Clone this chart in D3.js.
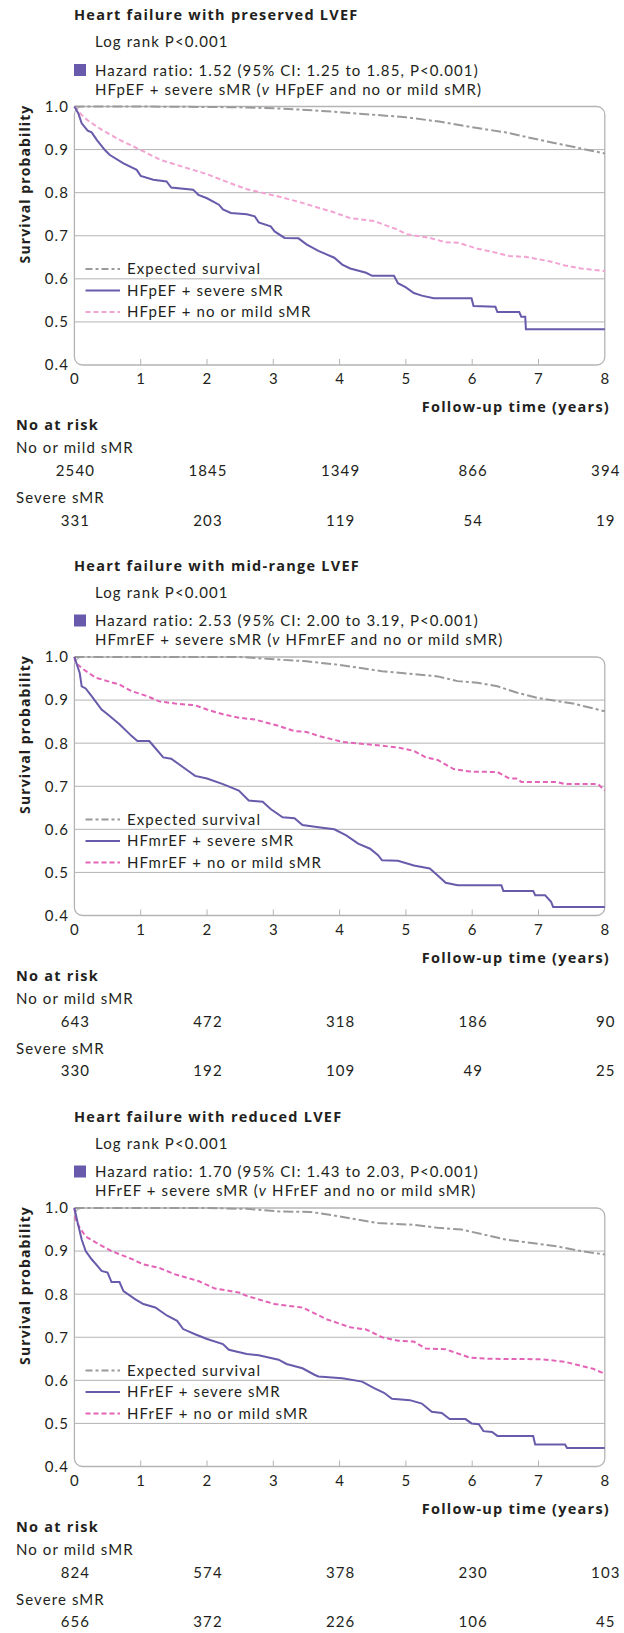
<!DOCTYPE html>
<html>
<head>
<meta charset="utf-8">
<script src="https://cdn.jsdelivr.net/npm/d3@7"></script>
<style>
  body { margin: 0; background: #fff; }
  svg text { font-family: Lato, "Noto Sans", sans-serif; fill: #231f20; letter-spacing: 1.1px; }
  svg text.bold { font-family: "Open Sans", "Noto Sans", sans-serif; font-weight: bold; letter-spacing: 1.25px; }
</style>
</head>
<body>
<div id="chart-area"></div>
<script>
// tick values
var timeTicks = [0, 1, 2, 3, 4, 5, 6, 7, 8];
var survTicks = [0.4, 0.5, 0.6, 0.7, 0.8, 0.9, 1.0];
var riskTimes = [0, 2, 4, 6, 8];

// panel texts
var panelTitles = ["Heart failure with preserved LVEF", "Heart failure with mid-range LVEF", "Heart failure with reduced LVEF"];
var logRankTexts = ["Log rank P<0.001", "Log rank P<0.001", "Log rank P<0.001"];
var hazardTexts = [
  "Hazard ratio: 1.52 (95% CI: 1.25 to 1.85, P<0.001)",
  "Hazard ratio: 2.53 (95% CI: 2.00 to 3.19, P<0.001)",
  "Hazard ratio: 1.70 (95% CI: 1.43 to 2.03, P<0.001)"
];
var groupNames = ["HFpEF", "HFmrEF", "HFrEF"];
var riskRowLabels = ["No or mild sMR", "Severe sMR"];

// survival curves [years, probability]
var pefExpected = [[0,1],[1,1],[2,0.999],[2.5,0.998],[3,0.996],[3.5,0.992],[4,0.987],[4.5,0.981],[5,0.975],[5.5,0.965],[6,0.952],[6.5,0.94],[7,0.923],[7.5,0.907],[8,0.891]];
var pefSevere = [[0,1],[0.06,0.984],[0.11,0.961],[0.2,0.944],[0.26,0.94],[0.34,0.922],[0.46,0.899],[0.53,0.888],[0.74,0.868],[0.94,0.853],[1.0,0.839],[1.19,0.83],[1.39,0.826],[1.46,0.812],[1.79,0.807],[1.87,0.795],[2.0,0.787],[2.18,0.772],[2.24,0.761],[2.36,0.753],[2.6,0.75],[2.72,0.745],[2.78,0.731],[2.96,0.722],[3.02,0.71],[3.17,0.695],[3.38,0.694],[3.5,0.68],[3.68,0.665],[3.92,0.649],[4.04,0.633],[4.16,0.624],[4.4,0.614],[4.49,0.607],[4.82,0.607],[4.88,0.59],[5.0,0.58],[5.12,0.567],[5.24,0.561],[5.42,0.555],[5.99,0.555],[6.02,0.537],[6.35,0.535],[6.38,0.523],[6.71,0.523],[6.74,0.512],[6.8,0.512],[6.81,0.483],[8,0.483]];
var pefMild = [[0,1],[0.1,0.982],[0.2,0.968],[0.38,0.949],[0.69,0.922],[1.0,0.899],[1.3,0.876],[1.7,0.857],[2.0,0.843],[2.3,0.825],[2.6,0.808],[3.08,0.791],[3.4,0.778],[3.68,0.765],[3.9,0.755],[4.16,0.741],[4.52,0.734],[4.88,0.714],[5.0,0.704],[5.36,0.695],[5.6,0.685],[5.78,0.684],[6.08,0.67],[6.32,0.662],[6.56,0.653],[6.8,0.651],[7.16,0.641],[7.4,0.631],[7.64,0.624],[8,0.618]];

var mrefExpected = [[0,1],[2.5,1],[3.08,0.994],[3.5,0.99],[3.98,0.982],[4.64,0.967],[5.48,0.955],[5.78,0.944],[6.08,0.94],[6.38,0.932],[6.68,0.917],[6.98,0.905],[7.52,0.892],[8,0.874]];
var mrefSevere = [[0,1],[0.08,0.963],[0.11,0.932],[0.17,0.927],[0.26,0.909],[0.41,0.878],[0.5,0.867],[0.68,0.844],[0.86,0.817],[0.95,0.805],[1.13,0.805],[1.19,0.794],[1.34,0.767],[1.46,0.764],[1.64,0.744],[1.82,0.724],[2.0,0.718],[2.24,0.705],[2.48,0.69],[2.63,0.667],[2.84,0.664],[2.96,0.647],[3.14,0.628],[3.32,0.626],[3.44,0.61],[3.68,0.605],[3.92,0.6],[4.1,0.586],[4.28,0.567],[4.46,0.555],[4.58,0.54],[4.64,0.528],[4.88,0.527],[5.12,0.516],[5.36,0.509],[5.48,0.493],[5.6,0.476],[5.78,0.47],[6.44,0.47],[6.47,0.457],[6.92,0.457],[6.95,0.447],[7.1,0.447],[7.19,0.432],[7.22,0.42],[8,0.42]];
var mrefMild = [[0,1],[0.02,0.986],[0.14,0.971],[0.32,0.952],[0.5,0.944],[0.68,0.936],[0.86,0.921],[1.1,0.909],[1.28,0.897],[1.52,0.892],[1.82,0.888],[2.0,0.878],[2.24,0.867],[2.48,0.859],[2.72,0.855],[3.08,0.84],[3.32,0.828],[3.5,0.826],[3.68,0.817],[4.04,0.803],[4.46,0.797],[4.76,0.792],[4.88,0.79],[5.12,0.782],[5.3,0.767],[5.48,0.761],[5.72,0.74],[5.96,0.734],[6.38,0.733],[6.56,0.718],[6.68,0.718],[6.74,0.71],[7.28,0.71],[7.4,0.705],[7.9,0.705],[8,0.69]];

var refExpected = [[0,1],[2.0,1],[2.6,0.998],[3.08,0.992],[3.56,0.991],[3.98,0.981],[4.58,0.965],[5.12,0.961],[5.48,0.954],[5.84,0.95],[6.5,0.927],[7.28,0.911],[7.64,0.9],[8,0.892]];
var refSevere = [[0,1],[0.05,0.965],[0.11,0.927],[0.17,0.9],[0.26,0.881],[0.35,0.865],[0.41,0.854],[0.5,0.85],[0.56,0.828],[0.68,0.828],[0.74,0.807],[0.92,0.788],[1.04,0.777],[1.22,0.769],[1.4,0.75],[1.55,0.738],[1.64,0.719],[1.82,0.707],[2.0,0.696],[2.24,0.684],[2.33,0.671],[2.6,0.661],[2.78,0.658],[3.08,0.648],[3.2,0.638],[3.44,0.628],[3.62,0.613],[3.68,0.609],[4.04,0.605],[4.34,0.597],[4.52,0.582],[4.67,0.571],[4.79,0.557],[5.06,0.554],[5.24,0.546],[5.39,0.527],[5.54,0.524],[5.66,0.51],[5.9,0.51],[5.99,0.5],[6.1,0.498],[6.17,0.482],[6.3,0.48],[6.38,0.471],[6.92,0.471],[6.95,0.451],[7.4,0.451],[7.43,0.443],[8,0.443]];
var refMild = [[0,1],[0.02,0.973],[0.08,0.954],[0.17,0.934],[0.32,0.92],[0.56,0.9],[0.86,0.882],[1.04,0.869],[1.28,0.861],[1.52,0.846],[1.88,0.83],[2.12,0.813],[2.48,0.804],[2.6,0.796],[3.02,0.777],[3.44,0.769],[3.8,0.742],[4.16,0.723],[4.4,0.718],[4.64,0.7],[4.88,0.692],[5.12,0.69],[5.3,0.674],[5.6,0.672],[5.96,0.653],[6.26,0.65],[7.04,0.649],[7.4,0.643],[7.58,0.636],[7.82,0.627],[8,0.615]];

// numbers at risk
var pefRiskMild = [2540, 1845, 1349, 866, 394];
var pefRiskSevere = [331, 203, 119, 54, 19];
var mrefRiskMild = [643, 472, 318, 186, 90];
var mrefRiskSevere = [330, 192, 109, 49, 25];
var refRiskMild = [824, 574, 378, 230, 103];
var refRiskSevere = [656, 372, 226, 106, 45];

var expectedSeries = [pefExpected, mrefExpected, refExpected];
var severeSeries = [pefSevere, mrefSevere, refSevere];
var mildSeries = [pefMild, mrefMild, refMild];
var riskMild = [pefRiskMild, mrefRiskMild, refRiskMild];
var riskSevere = [pefRiskSevere, mrefRiskSevere, refRiskSevere];

var purple = "#6a5aab",
    mildColors = ["#f2a3d2", "#e363b6", "#e363b6"],
    grey = "#9a9a9a";

var panelOffsets = [0, 550.5, 1101.5];

var svg = d3.select("#chart-area")
  .append("svg")
    .attr("width", 624)
    .attr("height", 1633);

// Scales
var x = d3.scaleLinear().domain([0, 8]).range([74.4, 604.8]);
var y = d3.scaleLinear().domain([0.4, 1.0]).range([365, 106.5]);

var line = d3.line()
  .x(d => x(d[0]))
  .y(d => y(d[1]));

panelOffsets.forEach(function(off, i) {
  var g = svg.append("g").attr("transform", "translate(0," + off + ")");

  // header texts
  g.append("text").attr("class", "bold").attr("x", 74).attr("y", 20)
    .attr("font-size", "14.5px").text(panelTitles[i]);
  g.append("text").attr("x", 95).attr("y", 47)
    .attr("font-size", "15px").text(logRankTexts[i]);
  g.append("rect").attr("x", 74).attr("y", 64).attr("width", 12).attr("height", 12)
    .attr("fill", purple);
  g.append("text").attr("x", 95).attr("y", 75.5)
    .attr("font-size", "15px").text(hazardTexts[i]);
  var cmp = g.append("text").attr("x", 95).attr("y", 94.5).attr("font-size", "15px");
  cmp.append("tspan").text(groupNames[i] + " + severe sMR (");
  cmp.append("tspan").attr("font-style", "italic").text("v");
  cmp.append("tspan").text(" " + groupNames[i] + " and no or mild sMR)");

  // gridlines
  g.selectAll(".grid").data(survTicks.filter(d => d > 0.4 && d < 1))
    .enter().append("line")
      .attr("x1", x(0)).attr("x2", x(8))
      .attr("y1", d => y(d)).attr("y2", d => y(d))
      .attr("stroke", "#b4b4b4").attr("stroke-width", 1);

  // frame
  g.append("rect")
    .attr("x", x(0)).attr("y", y(1))
    .attr("width", x(8) - x(0)).attr("height", y(0.4) - y(1))
    .attr("rx", 8).attr("fill", "none")
    .attr("stroke", "#b4b4b4").attr("stroke-width", 1.3);

  // x ticks inside frame
  g.selectAll(".tick").data(timeTicks.slice(1, -1))
    .enter().append("line")
      .attr("x1", d => x(d)).attr("x2", d => x(d))
      .attr("y1", y(0.4)).attr("y2", y(0.4) - 6)
      .attr("stroke", "#b4b4b4").attr("stroke-width", 1);

  // tick labels
  g.selectAll(".ylab").data(survTicks)
    .enter().append("text")
      .attr("x", 69).attr("y", d => y(d)).attr("dy", "0.36em")
      .attr("text-anchor", "end").attr("font-size", "15px")
      .text(d => d3.format(".1f")(d));
  g.selectAll(".xlab").data(timeTicks)
    .enter().append("text")
      .attr("x", d => x(d) + 0.5).attr("y", 384)
      .attr("text-anchor", "middle").attr("font-size", "15px")
      .text(d => d);

  g.append("text").attr("class", "bold")
    .attr("transform", "rotate(-90)")
    .attr("x", -184).attr("y", 30)
    .attr("text-anchor", "middle").attr("font-size", "14px")
    .style("letter-spacing", "1.1px")
    .text("Survival probability");

  g.append("text").attr("class", "bold")
    .attr("x", 610).attr("y", 412)
    .attr("text-anchor", "end").attr("font-size", "14.5px")
    .text("Follow-up time (years)");

  // curves
  g.append("path").attr("d", line(expectedSeries[i]))
    .attr("fill", "none").attr("stroke", grey).attr("stroke-width", 2)
    .attr("stroke-dasharray", "10,3,3,3");
  g.append("path").attr("d", line(mildSeries[i]))
    .attr("fill", "none").attr("stroke", mildColors[i]).attr("stroke-width", 2)
    .attr("stroke-dasharray", "5,3");
  g.append("path").attr("d", line(severeSeries[i]))
    .attr("fill", "none").attr("stroke", purple).attr("stroke-width", 2);

  // legend
  var legendItems = [
    { label: "Expected survival", color: grey, dash: "7,3,3,3" },
    { label: groupNames[i] + " + severe sMR", color: purple, dash: null },
    { label: groupNames[i] + " + no or mild sMR", color: mildColors[i], dash: "5,3" }
  ];
  legendItems.forEach(function(item, k) {
    var ly = 269 + k * 21.5;
    g.append("line").attr("x1", 85.5).attr("x2", 120).attr("y1", ly).attr("y2", ly)
      .attr("stroke", item.color).attr("stroke-width", 2)
      .attr("stroke-dasharray", item.dash);
    g.append("text").attr("x", 127).attr("y", ly).attr("dy", "0.35em")
      .attr("font-size", "15px").text(item.label);
  });

  // numbers at risk
  g.append("text").attr("class", "bold").attr("x", 16).attr("y", 430)
    .attr("font-size", "14.5px").text("No at risk");
  g.append("text").attr("x", 16).attr("y", 453)
    .attr("font-size", "15px").text(riskRowLabels[0]);
  g.selectAll(".r1").data(riskMild[i])
    .enter().append("text")
      .attr("x", (d, j) => x(riskTimes[j]) + 1).attr("y", 476)
      .attr("text-anchor", "middle").attr("font-size", "15px")
      .text(d => d);
  g.append("text").attr("x", 16).attr("y", 503)
    .attr("font-size", "15px").text(riskRowLabels[1]);
  g.selectAll(".r2").data(riskSevere[i])
    .enter().append("text")
      .attr("x", (d, j) => x(riskTimes[j]) + 1).attr("y", 525.5)
      .attr("text-anchor", "middle").attr("font-size", "15px")
      .text(d => d);
});
</script>
</body>
</html>
